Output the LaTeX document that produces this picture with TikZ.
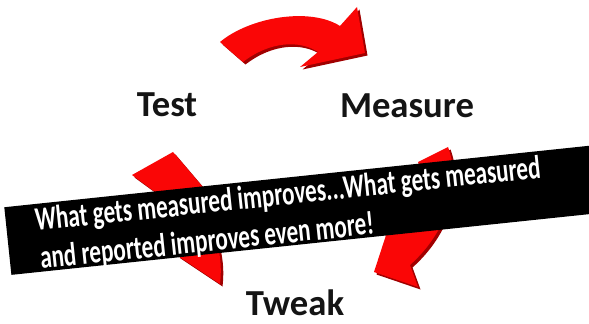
\documentclass[tikz,border=0pt]{standalone}
\usepackage{fontspec}
\setmainfont{Carlito}
\newfontfamily\bannerfont{Carlito}[FakeStretch=0.7]
\begin{document}
% Outlines of the three curved block arrows of the cycle
\def\TopArrowPath{(220,42) .. controls (250,17) and (310,7) .. (340,26) -- (357,7) -- (365,53) -- (300,67) -- (318,52) .. controls (300,40) and (270,41) .. (243,62) -- cycle}
\def\RightArrowPath{(418,162) -- (448,147) .. controls (462,185) and (447,232) .. (410,265) -- (418,287) -- (374,272) -- (389,226) -- (406,222) .. controls (420,205) and (425,180) .. (418,162) -- cycle}
\def\LeftArrowPath{(220,284) -- (178,256) .. controls (165,235) and (158,212) .. (158,194) -- (132,175) -- (173,152) -- (207,192) -- (196,197) .. controls (212,222) and (224,250) .. (220,284) -- cycle}
\begin{tikzpicture}[x=0.75pt,y=-0.75pt,
  stage/.style={font=\fontsize{27.5}{32}\selectfont\bfseries, text=black!92, inner sep=0pt, anchor=base},
  bannerline/.style={font=\bannerfont\fontsize{24.8}{29}\selectfont\bfseries, text=white, inner sep=0pt, rotate=6, anchor=base west},
  band/.style={fill=black, rotate=6, anchor=north west, minimum width=470pt, minimum height=51pt, inner sep=0pt},
  arrowface/.style={fill={rgb,255:red,250;green,6;blue,6}},
  arrowside/.style={fill={rgb,255:red,160;green,0;blue,0}, shift={(2.5,2.5)}}]
\useasboundingbox (0,0) rectangle (589,324);
\clip (0,0) rectangle (589,324);
\fill[white] (0,0) rectangle (589,324);

% extruded sides, then faces
\fill[arrowside] \TopArrowPath;
\fill[arrowside] \RightArrowPath;
\fill[arrowside] \LeftArrowPath;
\fill[arrowface] \TopArrowPath;
\fill[arrowface] \RightArrowPath;
\fill[arrowface] \LeftArrowPath;

% stage labels
\node[stage] (test) at (167,117) {Test};
\node[stage] (measure) at (407,118) {Measure};
\node[stage] (tweak) at (295,315) {Tweak};

% black banner with the quote
\node[band] (banner) at (4,207) {};
\node[bannerline] (quote1) at (36,231) {What gets measured improves...What gets measured};
\node[bannerline] (quote2) at (41,269) {and reported improves even more!};
\end{tikzpicture}
\end{document}
